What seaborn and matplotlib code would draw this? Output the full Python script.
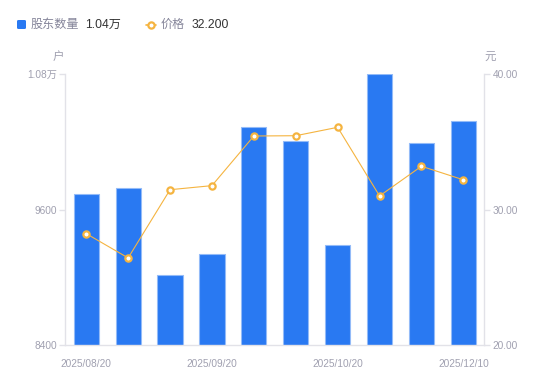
import numpy as np
import pandas as pd
import matplotlib
matplotlib.use("Agg")
import matplotlib.pyplot as plt
import seaborn as sns
from matplotlib.patches import FancyBboxPatch
from matplotlib.lines import Line2D

dates = ["2025/08/20", "2025/08/31", "2025/09/10", "2025/09/20", "2025/09/30",
         "2025/10/10", "2025/10/20", "2025/10/31", "2025/11/30", "2025/12/10"]
holders = [9736, 9792, 9022, 9208, 10331, 10207, 9287, 10797, 10190, 10384]
prices = [28.23, 26.44, 31.47, 31.77, 35.43, 35.45, 36.07, 31.01, 33.20, 32.20]
left_ticks = [8400, 9600, 10800]
left_ticklabels = ["8400", "9600", "1.08万"]
right_ticks = [20, 30, 40]
right_ticklabels = ["20.00", "30.00", "40.00"]
shown_dates = ["2025/08/20", "2025/09/20", "2025/10/20", "2025/12/10"]

df = pd.DataFrame({"date": dates, "holders": holders, "price": prices})

sns.set_theme(style="white")
plt.rcParams["font.family"] = ["Liberation Sans", "Noto Sans CJK SC", "DejaVu Sans"]

BLUE = "#2979f2"
ORANGE = "#f5b440"
TICK = "#a0a0b0"
AXIS = "#e2e2e8"

fig = plt.figure(figsize=(5.5, 3.81), dpi=100)
W, H = 550, 381
ax = fig.add_axes([65.3 / W, 1 - 345.3 / H, (484.3 - 65.3) / W, (345.3 - 74) / H])

sns.barplot(data=df, x="date", y="holders", ax=ax, color=BLUE, width=0.6,
            edgecolor="#93bbf8", linewidth=0.8, saturation=1)
ax.set_ylim(8400, 10800)
ax.set_xlim(-0.5, len(dates) - 0.5)
ax.set_yticks(left_ticks)
ax.set_yticklabels(left_ticklabels)
ax.set_xticks([dates.index(d) for d in shown_dates])
ax.set_xticklabels(shown_dates)
ax.set_xlabel("")
ax.set_ylabel("")

ax2 = ax.twinx()
sns.pointplot(data=df, x="date", y="price", ax=ax2, color=ORANGE,
              markers="o", linewidth=0.8, markersize=4.5,
              markerfacecolor="white", markeredgecolor=ORANGE, markeredgewidth=1.6)
ax2.set_ylim(20, 40)
ax2.set_xlim(-0.5, len(dates) - 0.5)
ax2.set_yticks(right_ticks)
ax2.set_yticklabels(right_ticklabels)
ax2.set_xlabel("")
ax2.set_ylabel("")

for a in (ax, ax2):
    for s in a.spines.values():
        s.set_visible(False)
    a.grid(False)
ax.spines["left"].set_visible(True)
ax.spines["bottom"].set_visible(True)
ax2.spines["right"].set_visible(True)
for s in (ax.spines["left"], ax.spines["bottom"], ax2.spines["right"]):
    s.set_color(AXIS)
    s.set_linewidth(1.0)

ax.tick_params(axis="y", which="both", left=True, length=4, width=1, color=AXIS,
               labelsize=7.3, labelcolor=TICK, pad=2)
ax.tick_params(axis="x", bottom=False, labelsize=7.3, labelcolor=TICK, pad=4)
ax2.tick_params(axis="y", right=True, length=4, width=1, color=AXIS,
                labelsize=7.3, labelcolor=TICK, pad=2)

# unit labels
fig.text(58.5 / W, 1 - 57.5 / H, "户", ha="center", va="center", fontsize=8.3, color=TICK)
fig.text(490 / W, 1 - 57.5 / H, "元", ha="center", va="center", fontsize=8.3, color=TICK)

# legend
ly = 1 - 24.5 / H
sq = FancyBboxPatch((17 / W, 1 - 29 / H), 9 / W, 9 / H, boxstyle="round,pad=0,rounding_size=0.003",
                    transform=fig.transFigure, facecolor=BLUE, edgecolor="none")
fig.add_artist(sq)
fig.text(31 / W, ly, "股东数量", ha="left", va="center", fontsize=8.7, color="#85859a")
fig.text(85 / W, ly, "1.04万", ha="left", va="center", fontsize=8.7, color="#333333")
fig.add_artist(Line2D([146 / W, 156 / W], [ly, ly], transform=fig.transFigure,
                      color=ORANGE, linewidth=1.2))
fig.add_artist(Line2D([151 / W], [ly], transform=fig.transFigure, marker="o",
                      markersize=4.5, markerfacecolor="white", markeredgecolor=ORANGE,
                      markeredgewidth=1.6, linestyle="none"))
fig.text(161 / W, ly, "价格", ha="left", va="center", fontsize=8.7, color="#85859a")
fig.text(192 / W, ly, "32.200", ha="left", va="center", fontsize=8.7, color="#333333")

fig.savefig("out.png", dpi=100)
